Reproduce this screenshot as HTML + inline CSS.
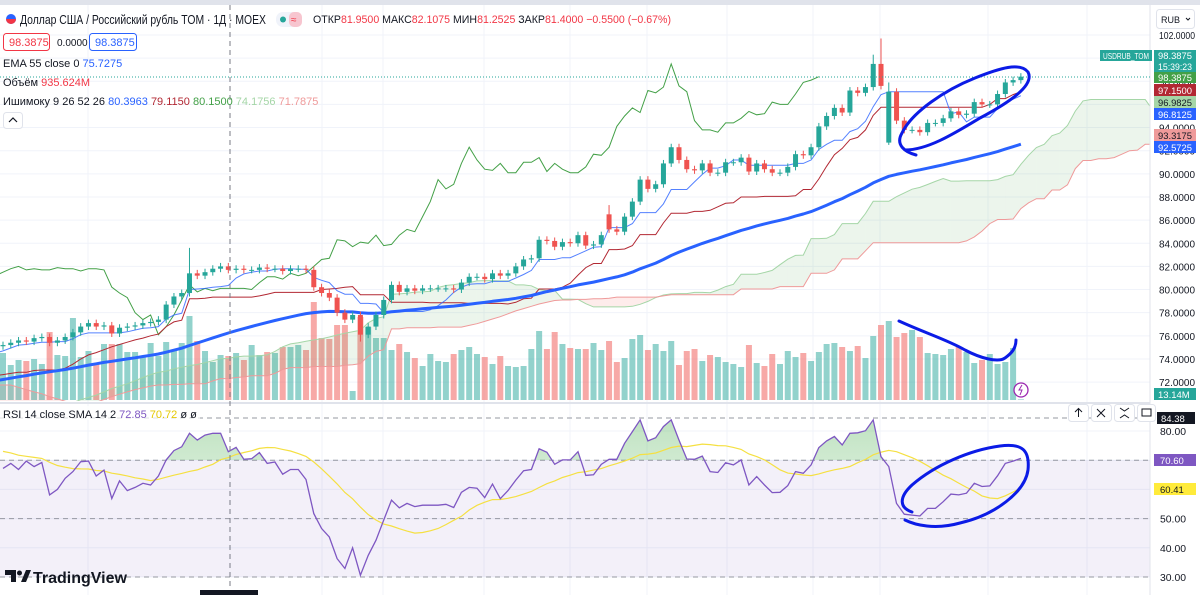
<!DOCTYPE html>
<html><head><meta charset="utf-8">
<style>
html,body{margin:0;padding:0;background:#fff;}
body{width:1200px;height:595px;overflow:hidden;position:relative;font-family:"Liberation Sans","DejaVu Sans",sans-serif;}
svg{position:absolute;left:0;top:0;}
svg text{font-family:"Liberation Sans","DejaVu Sans",sans-serif;}
</style></head>
<body>
<svg id="chart" width="1200" height="595" viewBox="0 0 1200 595">
<defs>
<clipPath id="mainClip"><rect x="0" y="0" width="1150" height="401"/></clipPath>
<clipPath id="rsiClip"><rect x="0" y="406" width="1150" height="189"/></clipPath>
<clipPath id="obClip"><rect x="0" y="406" width="1150" height="54"/></clipPath>
<linearGradient id="obGrad" x1="0" y1="0" x2="0" y2="1"><stop offset="0" stop-color="#4caf50" stop-opacity="0.35"/><stop offset="1" stop-color="#4caf50" stop-opacity="0.03"/></linearGradient>
</defs>
<rect x="0" y="0" width="1200" height="5" fill="#e0e3eb"/>
<g id="grid"></g>
<rect x="0" y="460" width="1150" height="117" fill="#7e57c2" fill-opacity="0.09"/>
<g id="volG" clip-path="url(#mainClip)"></g>
<g id="cloudG" clip-path="url(#mainClip)"></g>
<g id="linesG" clip-path="url(#mainClip)"></g>
<g id="candleG" clip-path="url(#mainClip)"></g>
<g id="rsiG" clip-path="url(#rsiClip)"></g>
<g id="axisG"></g>
</svg>
<script>
// ---- data ----
const priorCloses = [74.8,75.0,74.6,74.2,73.8,73.5,73.0,72.6,72.2,71.9,71.5,71.0,70.8,70.5,70.2,70.0,69.8,69.5,69.3,
69.0,68.8,68.6,68.9,69.2,69.0,68.7,68.5,68.8,69.1,69.4,69.2,69.0,69.3,69.6,69.4,69.2,69.5,69.8,69.6,69.4,69.7,70.0,69.8,69.6,69.9,70.2,70.0,69.8,70.1,
70.3,70.1,69.9,70.2,70.5,70.3,70.1,70.4,70.6,70.4,70.2,70.5,70.8,71.2,71.6,72.0,72.5,73.0,73.4,73.8,74.2,74.5,74.8,75.0,74.9,75.1,75.0,75.2,75.1];
const closes = [75.2,75.4,75.6,75.5,75.8,75.9,75.4,75.6,75.9,76.3,
76.8,77.1,76.8,76.9,76.2,76.7,76.8,76.9,77.1,77.2,
77.4,78.7,79.4,79.7,81.4,81.2,81.5,81.8,82.0,81.7,
81.8,81.7,81.7,81.9,81.8,81.8,81.6,81.8,81.8,81.7,
80.2,79.7,79.3,78.0,77.4,77.8,76.1,76.8,77.8,79.1,
80.4,79.8,80.1,79.9,80.1,80.1,80.1,80.1,80.0,80.6,
81.1,81.1,80.9,81.4,81.2,81.4,82.0,82.6,82.7,84.3,
84.2,83.7,84.1,84.0,84.7,83.8,83.9,84.7,85.2,85.0,
86.3,87.6,89.5,88.7,89.1,90.9,92.3,91.2,90.4,90.3,
90.9,90.1,90.1,91.0,91.0,91.4,90.2,90.9,90.4,90.1,
90.1,90.6,91.7,91.6,92.3,94.1,95.0,95.7,95.3,97.2,
97.0,97.5,99.5,97.6,97.1,94.6,93.8,93.8,93.6,94.4,
94.4,94.8,95.4,95.1,95.2,96.2,96.0,96.0,96.9,97.9,
98.1,98.4];
const openOverrides = {78:86.5, 114:92.7};
const highOverrides = {24:83.6, 78:87.3, 112:100.3, 113:101.7, 114:97.9};
const lowOverrides = {46:75.5, 114:92.5};
const volumes = [940,700,800,780,820,720,1360,900,880,1640,860,980,740,1120,1120,1120,960,960,860,1140,880,1160,1000,1140,1680,1180,980,760,900,880,940,800,1100,900,960,940,1060,1060,1100,1000,
1960,1240,1220,1500,1500,180,1660,1460,1240,
1240,1000,1120,960,840,680,920,780,760,920,1000,1060,920,860,720,880,680,660,680,1020,1380,1020,1360,1120,1040,1020,1020,1140,1000,1180,760,840,1220,1300,1000,1120,980,1180,700,980,1020,780,900,860,760,720,660,1100,740,680,920,720,980,860,940,780,960,
1120,1140,1060,980,1080,840,1280,1500,1580,1260,1340,1400,1260,940,920,900,1020,1060,960,740,800,920,720,760,1040,
13.14];
const priorRsi = [76,78,75,73,74,77,75,72,73,71,70,72,69];
const rsiValues = [67.2,68.9,66.8,69.7,67.8,69.2,58.1,60.0,63.8,66.1,
69.5,69.7,64.6,66.6,56.9,62.9,59.6,60.7,62.1,61.5,
64.6,70.1,73.3,74.6,79.2,76.9,78.6,79.2,79.2,72.9,
74.4,70.3,70.5,72.6,68.9,69.4,65.2,66.8,66.8,63.4,
51.7,46.6,43.7,36.3,32.9,40.0,30.6,37.4,42.6,49.5,
56.3,53.7,55.2,54.1,54.6,54.6,54.6,54.9,53.8,59.0,
60.7,60.4,57.2,61.8,56.8,59.6,63.2,66.4,66.8,73.9,
72.7,68.6,70.1,70.1,72.9,64.8,65.0,
68.6,70.3,70.3,75.8,79.8,83.8,76.6,77.7,81.5,83.8,
76.9,70.4,70.3,71.4,66.1,65.8,69.1,68.4,70.1,61.5,
64.4,61.5,58.9,59.0,61.3,66.1,65.5,68.4,74.3,76.6,
78.1,75.2,79.2,79.4,80.1,83.8,71.2,67.8,55.2,51.5,
51.2,50.9,53.5,53.5,55.8,58.4,58.1,58.7,62.1,61.0,
61.2,64.7,68.9,69.7,70.6];
const priceTicks = [102,100,98,96,94,92,90,88,86,84,82,80,78,76,74,72];
const rsiTicks = [80,70,60,50,40,30];
const rsiLevels = [70,50,30];

// ---- scales ----
const NS='http://www.w3.org/2000/svg';
function xAt(i){return 3+i*7.77;}
function yP(p){return 35+(102-p)*11.57;}
function yR(v){return 577-(v-30)*2.92;}
function yV(v){return 400-v/20;}
function mk(tag,attrs,parent){const e=document.createElementNS(NS,tag);for(const k in attrs)e.setAttribute(k,attrs[k]);parent.appendChild(e);return e;}

// ---- derived OHLC ----
const P=priorCloses.length;
const allC=priorCloses.concat(closes);
const allO=allC.map((c,k)=>{const i=k-P; if(openOverrides[i]!==undefined)return openOverrides[i]; return k>0?allC[k-1]:c;});
const allH=allC.map((c,k)=>{const i=k-P; return highOverrides[i]!==undefined?highOverrides[i]:Math.max(c,allO[k])+0.3;});
const allL=allC.map((c,k)=>{const i=k-P; return lowOverrides[i]!==undefined?lowOverrides[i]:Math.min(c,allO[k])-0.3;});
function mid(k,n){let h=-1e9,l=1e9;for(let j=Math.max(0,k-n+1);j<=k;j++){h=Math.max(h,allH[j]);l=Math.min(l,allL[j]);}return (h+l)/2;}

// ---- grid ----
const grid=document.getElementById('grid');
priceTicks.forEach(p=>{const l=mk('line',{x1:0,x2:1150,y1:yP(p),y2:yP(p),stroke:'#f0f3fa','stroke-width':1},grid);

});
[88,322,383,484,570,647,727,813,880,988,1087].forEach(x=>{const l=mk('line',{x1:x,x2:x,y1:5,y2:595,stroke:'#f0f3fa','stroke-width':1},grid);

});
rsiTicks.forEach(v=>{const l=mk('line',{x1:0,x2:1150,y1:yR(v),y2:yR(v),stroke:'#f0f3fa','stroke-width':1},grid);

});

// ---- volume ----
const volG=document.getElementById('volG');
volumes.forEach((v,i)=>{const k=i+P;const up=allC[k]>=allO[k];const top=yV(v);
const r=mk('rect',{x:xAt(i)-3,y:top,width:6,height:400-top,fill:up?'#26a69a':'#ef5350','fill-opacity':0.5},volG);

});

// ---- ichimoku ----
const spanA={},spanB={},tenkan={},kijun={};
for(let k=0;k<allC.length;k++){tenkan[k]=mid(k,9);kijun[k]=mid(k,26);spanA[k+26]=(tenkan[k]+kijun[k])/2;spanB[k+26]=mid(k,52);}
const cloudG=document.getElementById('cloudG');
const kStart=P-3,kEnd=allC.length-1+26;
for(let k=kStart;k<kEnd;k++){
  if(spanA[k]===undefined||spanA[k+1]===undefined)continue;
  const x1=xAt(k-P),x2=xAt(k+1-P);
  const g=(spanA[k]+spanA[k+1])>=(spanB[k]+spanB[k+1]);
  const poly=mk('polygon',{points:`${x1},${yP(spanA[k])} ${x2},${yP(spanA[k+1])} ${x2},${yP(spanB[k+1])} ${x1},${yP(spanB[k])}`,fill:g?'#43a047':'#f44336','fill-opacity':0.1},cloudG);
  
  
}
function linePath(obj,k0,k1){let d='';for(let k=k0;k<=k1;k++){if(obj[k]===undefined)continue;d+=(d?'L':'M')+xAt(k-P).toFixed(1)+' '+yP(obj[k]).toFixed(1);}return d;}
const pa=mk('path',{d:linePath(spanA,kStart,kEnd),fill:'none',stroke:'#a5d6a7','stroke-width':1},cloudG);


const pb=mk('path',{d:linePath(spanB,kStart,kEnd),fill:'none',stroke:'#ef9a9a','stroke-width':1},cloudG);



const linesG=document.getElementById('linesG');
const chikou={};for(let k=P;k<allC.length;k++){chikou[k-26]=allC[k];}
const ch=mk('path',{d:linePath(chikou,kStart,allC.length),fill:'none',stroke:'#43a047','stroke-width':1},linesG);


const kj=mk('path',{d:linePath(kijun,kStart,allC.length-1),fill:'none',stroke:'#b22833','stroke-width':1},linesG);


const tk=mk('path',{d:linePath(tenkan,kStart,allC.length-1),fill:'none',stroke:'#2962ff','stroke-width':1,'stroke-opacity':0.8},linesG);


const ema={};let e=allC[0];const a=2/56;for(let k=0;k<allC.length;k++){e=k===0?allC[0]:a*allC[k]+(1-a)*e;ema[k]=e;}
const em=mk('path',{d:linePath(ema,kStart,allC.length-1),fill:'none',stroke:'#2962ff','stroke-width':3,'stroke-linejoin':'round'},linesG);



// ---- candles ----
const candleG=document.getElementById('candleG');
closes.forEach((c,i)=>{const k=i+P;const o=allO[k];const up=c>=o;const col=up?'#26a69a':'#ef5350';const x=xAt(i);
const w=mk('line',{x1:x,x2:x,y1:yP(allH[k]),y2:yP(allL[k]),stroke:col,'stroke-width':1},candleG);


const t=Math.min(yP(o),yP(c));const h=Math.max(1,Math.abs(yP(o)-yP(c)));
const b=mk('rect',{x:x-2.5,y:t,width:5,height:h,fill:col},candleG);

});

// ---- RSI ----
const rsiG=document.getElementById('rsiG');
const rsiAll=priorRsi.concat(rsiValues);const RP=priorRsi.length;
function rPts(arr){return arr.map((v,i)=>(i?'L':'M')+xAt(i).toFixed(1)+' '+yR(v).toFixed(1)).join('');}
const rsiSma=rsiValues.map((v,i)=>{let s=0;for(let j=i+RP-13;j<=i+RP;j++)s+=rsiAll[j];return s/14;});
rsiLevels.forEach(v=>{const l=mk('line',{x1:0,x2:1150,y1:yR(v),y2:yR(v),stroke:'#9598a1','stroke-width':1,'stroke-dasharray':'5 4'},rsiG);

});
const rd=rPts(rsiValues);
const ob=mk('path',{d:rd+`L${xAt(rsiValues.length-1)} ${yR(70)}L${xAt(0)} ${yR(70)}Z`,fill:'url(#obGrad)','clip-path':'url(#obClip)'},rsiG);


const sm=mk('path',{d:rPts(rsiSma),fill:'none',stroke:'#f5e042','stroke-width':1.2},rsiG);


const rl=mk('path',{d:rd,fill:'none',stroke:'#7e57c2','stroke-width':1.3},rsiG);



// ---- axes ----
const axisG=document.getElementById('axisG');
priceTicks.forEach(p=>{const t=mk('text',{x:1159,y:yP(p)+4,'font-size':10,fill:'#131722',textLength:36,lengthAdjust:'spacingAndGlyphs'},axisG);t.textContent=p.toFixed(4);

});
rsiTicks.forEach(v=>{const t=mk('text',{x:1160,y:yR(v)+4,'font-size':10,fill:'#131722',textLength:26,lengthAdjust:'spacingAndGlyphs'},axisG);t.textContent=v.toFixed(2);

});
</script>
<svg width="1200" height="595" viewBox="0 0 1200 595" style="pointer-events:none">
<line x1="0" y1="403" x2="1150" y2="403" stroke="#e0e3eb" stroke-width="2"/>
<line x1="1150" y1="5" x2="1150" y2="595" stroke="#e0e3eb"/>
<line x1="230" y1="5" x2="230" y2="595" stroke="#787b86" stroke-dasharray="5 4"/>
<line x1="0" y1="418" x2="1150" y2="418" stroke="#9598a1" stroke-dasharray="5 4"/>
<line x1="0" y1="77" x2="1150" y2="77" stroke="#26a69a" stroke-dasharray="1 2"/>
<rect x="200" y="590" width="58" height="5" fill="#131722"/>
<g>
<circle cx="11" cy="19" r="5" fill="#2962ff"/><path d="M6 19 a5 5 0 0 0 10 0 Z" fill="#f23645"/>
<text x="20" y="24" font-size="13" fill="#131722" textLength="246" lengthAdjust="spacingAndGlyphs">Доллар США / Российский рубль TOM · 1Д · MOEX</text>
<rect x="276" y="12" width="26" height="15" rx="7" fill="#f0f3fa"/><rect x="289" y="12" width="13" height="15" rx="5" fill="#f7c5cf"/>
<circle cx="283" cy="19.5" r="3" fill="#26a69a"/><text x="291" y="23" font-size="10" fill="#f23645">≈</text>
<text x="313" y="23" font-size="11" fill="#131722" textLength="358" lengthAdjust="spacingAndGlyphs">ОТКР<tspan fill="#f23645">81.9500</tspan> МАКС<tspan fill="#f23645">82.1075</tspan> МИН<tspan fill="#f23645">81.2525</tspan> ЗАКР<tspan fill="#f23645">81.4000</tspan> <tspan fill="#f23645">−0.5500 (−0.67%)</tspan></text>
<rect x="3.5" y="33.5" width="46" height="17" rx="3" fill="#fff" stroke="#f23645"/>
<text x="9" y="46" font-size="11" fill="#f23645">98.3875</text>
<text x="57" y="46" font-size="10" fill="#131722">0.0000</text>
<rect x="89.5" y="33.5" width="47" height="17" rx="3" fill="#fff" stroke="#2962ff"/>
<text x="95" y="46" font-size="11" fill="#2962ff">98.3875</text>
<text x="3" y="67" font-size="11" fill="#131722">EMA 55 close 0 <tspan fill="#2962ff">75.7275</tspan></text>
<text x="3" y="86" font-size="11" fill="#131722">Объём <tspan fill="#f23645">935.624M</tspan></text>
<text x="3" y="105" font-size="11" fill="#131722">Ишимоку 9 26 52 26 <tspan fill="#2962ff">80.3963</tspan> <tspan fill="#b22833">79.1150</tspan> <tspan fill="#43a047">80.1500</tspan> <tspan fill="#a5d6a7">74.1756</tspan> <tspan fill="#ef9a9a">71.7875</tspan></text>
<rect x="3.5" y="112.5" width="19" height="16" rx="3" fill="#fff" stroke="#e0e3eb"/>
<path d="M9 122 L13 118 L17 122" fill="none" stroke="#131722" stroke-width="1.2"/>
<rect x="0" y="406" width="200" height="14" fill="#fff" fill-opacity="0.7"/>
<text x="3" y="418" font-size="11" fill="#131722">RSI 14 close SMA 14 2 <tspan fill="#7e57c2">72.85</tspan> <tspan fill="#e5c800">70.72</tspan> <tspan fill="#131722">ø ø</tspan></text>
</g>
<rect x="1156.5" y="9.5" width="38" height="19" rx="3" fill="#fff" stroke="#e0e3eb"/>
<text x="1161" y="23" font-size="9" fill="#131722">RUB</text><path d="M1186 18 l2 2 l2 -2" fill="none" stroke="#131722"/>
<rect x="1100" y="50" width="52" height="11" fill="#26a69a"/><text x="1103" y="59" font-size="8.5" fill="#fff" textLength="46" lengthAdjust="spacingAndGlyphs">USDRUB_TOM</text>
<rect x="1154" y="50" width="42" height="23" fill="#26a69a"/>
<g font-size="9.5">
<text x="1158" y="59" fill="#fff" textLength="34" lengthAdjust="spacingAndGlyphs">98.3875</text><text x="1158" y="70" fill="#fff" textLength="34" lengthAdjust="spacingAndGlyphs">15:39:23</text>
<rect x="1154" y="72" width="42" height="11" fill="#43a047"/><text x="1158" y="81" fill="#fff" textLength="34" lengthAdjust="spacingAndGlyphs">98.3875</text>
<rect x="1154" y="84" width="42" height="12" fill="#b22833"/><text x="1158" y="94" fill="#fff" textLength="34" lengthAdjust="spacingAndGlyphs">97.1500</text>
<rect x="1154" y="96" width="42" height="12" fill="#a5d6a7"/><text x="1158" y="106" fill="#131722" textLength="34" lengthAdjust="spacingAndGlyphs">96.9825</text>
<rect x="1154" y="108" width="42" height="12" fill="#2962ff"/><text x="1158" y="118" fill="#fff" textLength="34" lengthAdjust="spacingAndGlyphs">96.8125</text>
<rect x="1154" y="129" width="42" height="12" fill="#ef9a9a"/><text x="1158" y="139" fill="#131722" textLength="34" lengthAdjust="spacingAndGlyphs">93.3175</text>
<rect x="1154" y="141" width="42" height="12" fill="#2962ff"/><text x="1158" y="151" fill="#fff" textLength="34" lengthAdjust="spacingAndGlyphs">92.5725</text>
<rect x="1154" y="388" width="42" height="12" fill="#26a69a"/><text x="1158" y="398" fill="#fff">13.14M</text>
<rect x="1157" y="412" width="38" height="12" fill="#131722"/><text x="1161" y="422" fill="#fff">84.38</text>
<rect x="1154" y="454" width="42" height="12" fill="#7e57c2"/><text x="1160" y="464" fill="#fff">70.60</text>
<rect x="1154" y="483" width="42" height="12" fill="#ffeb3b"/><text x="1160" y="493" fill="#131722">60.41</text>
</g>
<g>
<rect x="1068.5" y="404.5" width="20" height="17" rx="3" fill="#fff" stroke="#e0e3eb"/><path d="M1078.5 417 V409 M1075 412 l3.5 -3.5 l3.5 3.5" fill="none" stroke="#131722"/>
<rect x="1091.5" y="404.5" width="20" height="17" rx="3" fill="#fff" stroke="#e0e3eb"/><path d="M1097 409 l8 8 M1105 409 l-8 8" stroke="#131722"/>
<rect x="1114.5" y="404.5" width="20" height="17" rx="3" fill="#fff" stroke="#e0e3eb"/><path d="M1120 408 l4.5 3 l4.5 -3 M1120 418 l4.5 -3 l4.5 3" fill="none" stroke="#131722"/>
<rect x="1137.5" y="404.5" width="18" height="17" rx="3" fill="#fff" stroke="#e0e3eb"/><rect x="1142" y="409" width="9" height="7" fill="none" stroke="#131722"/>
</g>
<circle cx="1021" cy="390" r="7" fill="#fff" stroke="#9c27b0" stroke-width="1.3"/><path d="M1022 385 l-3 5 h3 l-2 5" fill="none" stroke="#9c27b0"/>
<g fill="none" stroke="#0b1be6" stroke-width="3" stroke-linecap="round">
<path d="M916 155 C905 152 895 145 902 133 C912 112 945 90 975 78 C1000 68 1020 62 1028 72 C1035 85 1010 102 980 118 C955 133 928 150 905 150"/>
<path d="M899 321 C925 333 948 340 965 350 C980 358 998 363 1005 358 C1012 353 1016 348 1016 340"/>
<path d="M912 512 C900 508 898 498 912 485 C935 465 970 450 1000 446 C1022 443 1030 450 1028 470 C1025 492 995 515 960 523 C935 530 915 525 905 520"/>
</g>
<g>
<path d="M5 570 h11 v12 h-5 v-7 h-6z" fill="#131722"/><circle cx="19.5" cy="573" r="2.5" fill="#131722"/><path d="M21 582 l5 -12 h5 l-5 12z" fill="#131722"/>
<text x="33" y="583" font-size="16" font-weight="bold" fill="#131722">TradingView</text>
</g>
</svg>
</body></html>
